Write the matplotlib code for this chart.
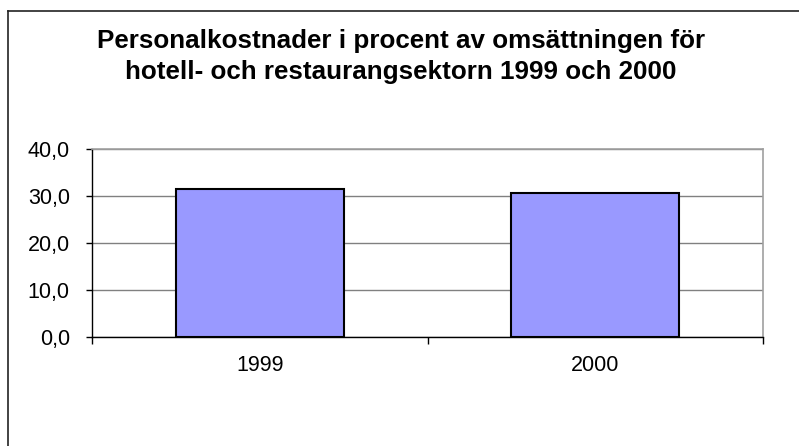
import matplotlib
matplotlib.use("Agg")
import matplotlib.pyplot as plt
from matplotlib.lines import Line2D
import numpy as np

categories = ["1999", "2000"]
values = [31.5, 30.7]
yticks = [0, 10, 20, 30, 40]
ytick_labels = ["0,0", "10,0", "20,0", "30,0", "40,0"]
title_lines = ["Personalkostnader i procent av omsättningen för",
               "hotell- och restaurangsektorn 1999 och 2000"]

plt.rcParams['font.family'] = ['Liberation Sans', 'DejaVu Sans']

W, H = 799, 446
fig = plt.figure(figsize=(W/100, H/100), dpi=100)
fig.patch.set_facecolor('white')

ax = fig.add_axes([92/W, 1-336.7/H, (763-92)/W, (336.7-149)/H])
x = np.arange(len(categories))
ax.bar(x, values, width=0.5, color='#9999FF', edgecolor='black', linewidth=1.5, zorder=3)
ax.set_xlim(-0.5, len(categories)-0.5)
ax.set_ylim(0, 40)
ax.set_yticks(yticks)
ax.set_yticklabels(ytick_labels, fontsize=15.5)
ax.set_xticks(x)
ax.set_xticklabels(categories, fontsize=15.5)
ax.tick_params(axis='x', length=0, pad=13)
ax.set_xticks(np.arange(-0.5, len(categories)), minor=True)
ax.tick_params(axis='x', which='minor', length=5, width=1, color='black', direction='out')
ax.tick_params(axis='y', length=4, width=1, color='black', direction='out', pad=12)
ax.yaxis.grid(True, color='#808080', linewidth=1, zorder=0)
ax.set_axisbelow(True)
for s in ['top', 'right']:
    ax.spines[s].set_color('#A0A0A0')
    ax.spines[s].set_linewidth(1.2)
for s in ['left', 'bottom']:
    ax.spines[s].set_color('black')
    ax.spines[s].set_linewidth(1)

fig.text(401/W, 1-48/H, title_lines[0], ha='center', va='baseline', fontsize=18.7, fontweight='bold')
fig.text(401/W, 1-79/H, title_lines[1], ha='center', va='baseline', fontsize=18.7, fontweight='bold')

# outer chart frame (only left and top visible)
fig.add_artist(Line2D([8/W, 8/W], [0, 1-11/H], transform=fig.transFigure, color='#222222', linewidth=1.2))
fig.add_artist(Line2D([8/W, 1], [1-11/H, 1-11/H], transform=fig.transFigure, color='#222222', linewidth=1.2))

fig.savefig('out.png', dpi=100, facecolor='white')
